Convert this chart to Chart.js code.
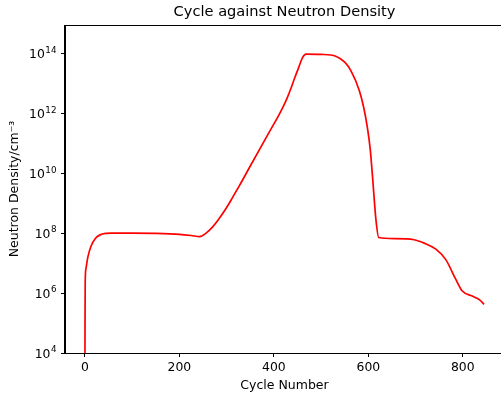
<!DOCTYPE html>
<html>
<head>
<meta charset="utf-8">
<script src="https://cdn.jsdelivr.net/npm/chart.js@4/dist/chart.umd.min.js"></script>
<style>
html,body{margin:0;padding:0;background:#fff;overflow:hidden;}
canvas{display:block;}
</style>
</head>
<body>
<canvas id="c" width="505" height="396"></canvas>
<script>
const chartTitle = "Cycle against Neutron Density";
const xTitle = "Cycle Number";
const yTitle = "Neutron Density/cm\u207B\u00B3";
const cycles = [0, 0.5, 2, 6, 13, 22, 32, 45, 55, 100, 150, 200, 225, 243, 257, 270, 285, 300, 313, 327, 348, 370, 395, 410, 419, 428, 436, 444, 452, 461, 468, 500, 531, 550, 563, 581, 590, 598, 604, 609, 616, 622, 655, 697, 720, 743, 764, 785, 799, 820, 835, 845];
const density = [1e4, 2e6, 6.3e6, 1.55e7, 3.7e7, 6.6e7, 8.7e7, 9.8e7, 1e8, 1e8, 9.8e7, 9.1e7, 8.3e7, 7.6e7, 1.02e8, 1.58e8, 3.16e8, 7.1e8, 1.58e9, 3.8e9, 1.51e10, 6.3e10, 3.16e11, 8.3e11, 1.55e12, 3.16e12, 6.6e12, 1.48e13, 3.16e13, 7.2e13, 9.3e13, 9.1e13, 7.9e13, 5e13, 2.6e13, 5.6e12, 1.6e12, 3.3e11, 6.3e10, 7.2e9, 2.9e8, 7.1e7, 6.5e7, 6e7, 4.5e7, 2.9e7, 1.3e7, 2.9e6, 1.17e6, 7.9e5, 6e5, 4.2e5];
const xTickValues = [0, 200, 400, 600, 800];
const yTickValues = [1e4, 1e6, 1e8, 1e10, 1e12, 1e14];
const yTickBases = ["10", "10", "10", "10", "10", "10"];
const yTickExponents = ["4", "6", "8", "10", "12", "14"];

Chart.defaults.font.family = "'DejaVu Sans', sans-serif";
Chart.defaults.color = "#000";

const points = cycles.map((c, i) => ({x: c, y: density[i]}));

const framePlugin = {
  id: 'frame',
  afterDraw(chart) {
    const a = chart.chartArea, ctx = chart.ctx;
    ctx.save();
    ctx.strokeStyle = '#000';
    ctx.lineWidth = 1;
    ctx.strokeRect(Math.round(a.left) - 0.5, Math.round(a.top) + 0.5, Math.round(a.right - a.left) + 1, Math.round(a.bottom - a.top));
    ctx.fillStyle = '#000';
    ctx.font = "14.6px 'DejaVu Sans'";
    ctx.textAlign = 'center';
    ctx.textBaseline = 'middle';
    ctx.fillText(chartTitle, (a.left + a.right) / 2, 12.5);
    const ys = chart.scales.y;
    yTickValues.forEach((v, i) => {
      const py = ys.getPixelForValue(v);
      ctx.font = "12.4px 'DejaVu Sans'";
      const wb = ctx.measureText(yTickBases[i]).width;
      ctx.font = "8.8px 'DejaVu Sans'";
      const we = ctx.measureText(yTickExponents[i]).width;
      const right = 56.5;
      const x0 = right - we - wb - 0.5;
      ctx.textAlign = 'left';
      ctx.textBaseline = 'alphabetic';
      ctx.font = "12.4px 'DejaVu Sans'";
      ctx.fillText(yTickBases[i], x0, py + 4.7);
      ctx.font = "8.8px 'DejaVu Sans'";
      ctx.fillText(yTickExponents[i], x0 + wb + 0.5, py - 0.6);
    });
    ctx.restore();
  }
};

new Chart(document.getElementById('c'), {
  type: 'line',
  data: {
    datasets: [{
      data: points,
      borderColor: '#ff0000',
      borderWidth: 1.7,
      pointRadius: 0,
      fill: false,
      cubicInterpolationMode: 'monotone'
    }]
  },
  options: {
    responsive: false,
    animation: false,
    events: [],
    layout: {padding: {top: 25, right: 1, left: 0, bottom: 0}},
    plugins: {legend: {display: false}, tooltip: {enabled: false}, title: {display: false}},
    scales: {
      x: {
        type: 'linear',
        min: -42.25,
        max: 887.25,
        afterBuildTicks(s) { s.ticks = xTickValues.map(v => ({value: v})); },
        afterFit(s) { s.height = 43; },
        border: {display: true, color: '#000', width: 1},
        grid: {drawOnChartArea: false, drawTicks: true, tickLength: 4, color: '#000'},
        ticks: {padding: 3, font: {size: 12.4}, maxRotation: 0, color: '#000'},
        title: {display: true, text: xTitle, font: {size: 12.5}, padding: {top: 0, bottom: 3}, color: '#000'}
      },
      y: {
        type: 'logarithmic',
        min: 1e4,
        max: 8.7e14,
        afterBuildTicks(s) { s.ticks = yTickValues.map(v => ({value: v})); },
        afterFit(s) { s.width = 65; },
        border: {display: true, color: '#000', width: 1},
        grid: {drawOnChartArea: false, drawTicks: true, tickLength: 4, color: '#000'},
        ticks: {padding: 3, font: {size: 12.4}, color: '#000', callback() { return ''; }},
        title: {display: true, text: yTitle, font: {size: 12.5}, padding: {top: 7, bottom: 0}, color: '#000'}
      }
    }
  },
  plugins: [framePlugin]
});
</script>
</body>
</html>
